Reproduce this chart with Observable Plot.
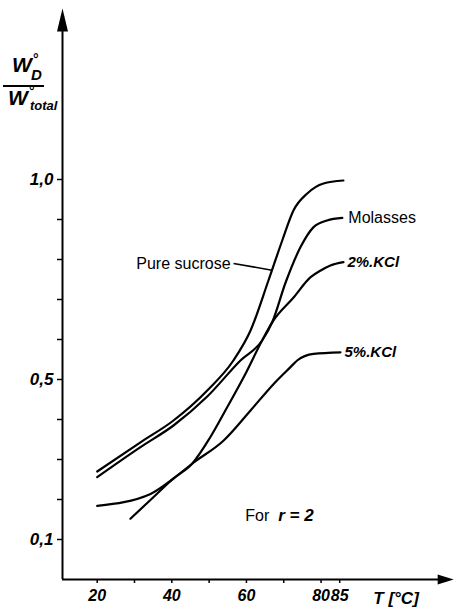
<!DOCTYPE html>
<html><head><meta charset="utf-8">
<script src="https://cdn.jsdelivr.net/npm/d3@7"></script>
<script src="https://cdn.jsdelivr.net/npm/@observablehq/plot@0.6"></script>
<style>
body{margin:0;background:#fff;}
#wrap{position:relative;width:455px;height:610px;background:#fff;}
#ylab span{position:absolute;font-family:"Liberation Sans",sans-serif;font-style:italic;font-weight:bold;line-height:1;color:#000;white-space:nowrap;}
#ylab .bar{position:absolute;left:3px;top:85px;width:41px;height:2px;background:#000;}
</style></head><body>
<div id="wrap">
  <div id="ylab">
    <span style="left:12px;top:54px;font-size:21px;">W</span>
    <span style="left:33px;top:52px;font-size:14px;font-style:normal;">°</span>
    <span style="left:31px;top:67px;font-size:15px;">D</span>
    <div class="bar"></div>
    <span style="left:8px;top:87px;font-size:21px;">W</span>
    <span style="left:29px;top:84px;font-size:14px;font-style:normal;">°</span>
    <span style="left:30px;top:99px;font-size:13px;">total</span>
  </div>
</div>
<script>
// ---- data (T in °C, ratio W°D / W°total) ----
const sucroseT = [20, 31.6, 40.45, 49.5, 56.5, 61.1, 65.9, 69.6, 72.6, 76.3, 80.65, 86.0];
const sucroseV = [0.27, 0.343, 0.3975, 0.4725, 0.5475, 0.6225, 0.7475, 0.8475, 0.9225, 0.965, 0.99, 0.9975];

const molassesT = [20, 31.6, 40.45, 49.5, 58.4, 64.2, 66.9, 70.5, 74.5, 78.0, 81.6, 85.7];
const molassesV = [0.256, 0.331, 0.385, 0.4575, 0.5475, 0.5975, 0.643, 0.7425, 0.831, 0.881, 0.8975, 0.904];

const kcl2T = [28.9, 34.7, 40.45, 45.5, 50.1, 54.8, 59.5, 64.2, 66.9, 72.7, 77.2, 79.9, 82.5, 86.0];
const kcl2V = [0.152, 0.2025, 0.2525, 0.29, 0.3525, 0.43, 0.51, 0.5975, 0.643, 0.7058, 0.7558, 0.7725, 0.785, 0.7933];

const kcl5T = [20, 34.3, 40.45, 45.5, 53.9, 61.1, 67.3, 71.8, 73.6, 78.0, 85.2];
const kcl5V = [0.184, 0.214, 0.2525, 0.29, 0.3475, 0.4225, 0.489, 0.531, 0.5475, 0.564, 0.568];

const seriesNames = ["Pure sucrose", "Molasses", "2%.KCl", "5%.KCl"];

const xTicks = [20, 30, 40, 50, 60, 70, 80, 85];
const xTickLabels = ["20", "", "40", "", "60", "", "80", "85"];
const yTicks = [0.1, 0.2, 0.3, 0.4, 0.5, 0.6, 0.7, 0.8, 0.9, 1.0];
const yTickLabels = ["0,1", "", "", "", "0,5", "", "", "", "", "1,0"];

// ---- build table ----
const seriesData = [[sucroseT, sucroseV], [molassesT, molassesV], [kcl2T, kcl2V], [kcl5T, kcl5V]];
const rows = seriesData.flatMap(([T, V], s) => T.map((t, i) => ({series: seriesNames[s], T: t, v: V[i]})));
const ends = seriesData.slice(1).map(([T, V], s) => ({series: seriesNames[s + 1], T: T[T.length - 1], v: V[V.length - 1]}));

const xLabelMap = new Map(xTicks.map((d, i) => [d, xTickLabels[i]]));
const yLabelMap = new Map(yTicks.map((d, i) => [d, yTickLabels[i]]));

const xMin = 10.7, xMax = 115.5, yMax = 1.4275;

// leader for "Pure sucrose": point on the sucrose curve
const interp = (T, V, t) => { for (let i = 1; i < T.length; i++) if (t <= T[i]) return V[i-1] + (V[i]-V[i-1])*(t-T[i-1])/(T[i]-T[i-1]); return V[V.length-1]; };
const leadT = 66.85, leadV = interp(sucroseT, sucroseV, leadT);
const leader = [{x1: leadT - 10.3, y1: leadV + 0.017, x2: leadT, y2: leadV}];

const arrowUp = {draw(ctx) { ctx.moveTo(0, -11.5); ctx.lineTo(5.5, 11.5); ctx.lineTo(-5.5, 11.5); ctx.closePath(); }};
const arrowRight = {draw(ctx) { ctx.moveTo(0, -8); ctx.lineTo(5, 8); ctx.lineTo(-5, 8); ctx.closePath(); }};

const fontItal = {fontStyle: "italic", fontWeight: "bold"};

const chart = Plot.plot({
  width: 455, height: 610,
  marginLeft: 62, marginRight: 2, marginTop: 8, marginBottom: 31,
  style: {fontFamily: "Liberation Sans, sans-serif", background: "white", color: "black"},
  x: {domain: [xMin, xMax]},
  y: {domain: [0, yMax]},
  marks: [
    Plot.ruleX([xMin], {y1: 0, y2: 1.37, strokeWidth: 2}),
    Plot.ruleY([0], {x1: xMin, x2: 112.5, strokeWidth: 2}),
    Plot.dot([{x: xMin, y: 1.399}], {x: "x", y: "y", symbol: arrowUp, fill: "black", stroke: null}),
    Plot.dot([{x: 113.4, y: 0}], {x: "x", y: "y", symbol: arrowRight, rotate: 90, fill: "black", stroke: null}),
    Plot.axisY(yTicks, {tickSize: 5, tickPadding: 4, tickFormat: d => yLabelMap.get(d) ?? "", fontSize: 17, ...fontItal, strokeWidth: 1.5, label: null}),
    Plot.axisX(xTicks, {tickSize: 4, tickPadding: 6, tickFormat: d => xLabelMap.get(d) ?? "", fontSize: 16, ...fontItal, strokeWidth: 1.5, label: null}),
    Plot.line(rows, {x: "T", y: "v", z: "series", curve: "monotone-x", stroke: "black", strokeWidth: 2.2}),
    Plot.link(leader, {x1: "x1", y1: "y1", x2: "x2", y2: "y2", stroke: "black", strokeWidth: 1.6}),
    Plot.text([seriesNames[0]], {x: leader[0].x1, y: leader[0].y1, text: d => d, textAnchor: "end", dx: -3, fontSize: 16}),
    Plot.text(ends.filter(d => d.series === "Molasses"), {x: "T", y: "v", text: "series", textAnchor: "start", dx: 6, fontSize: 16}),
    Plot.text(ends.filter(d => d.series !== "Molasses"), {x: "T", y: "v", text: "series", textAnchor: "start", dx: 4, fontSize: 15, ...fontItal}),
    Plot.text(["For"], {x: 59.7, y: 0.16, text: d => d, textAnchor: "start", fontSize: 16}),
    Plot.text(["r = 2"], {x: 68.5, y: 0.16, text: d => d, textAnchor: "start", fontSize: 17, ...fontItal}),
    Plot.text(["T [°C]"], {x: 94, y: 0, text: d => d, textAnchor: "start", dy: 19, fontSize: 17, ...fontItal})
  ]
});
document.getElementById("wrap").prepend(chart);
chart.style.position = "absolute";
chart.style.left = "0";
chart.style.top = "0";
</script>
</body></html>
